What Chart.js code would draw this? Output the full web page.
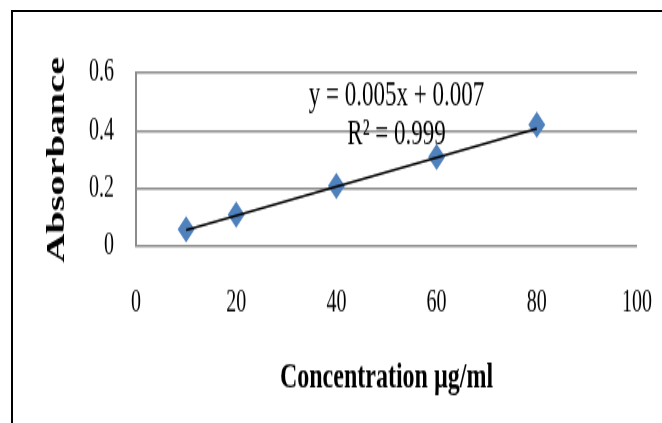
<!DOCTYPE html>
<html>
<head>
<meta charset="utf-8">
<script src="https://cdn.jsdelivr.net/npm/chart.js@4"></script>
<style>
  html, body { margin: 0; padding: 0; background: #fff; overflow: hidden; }
  body { width: 662px; height: 423px; position: relative; }
  #frame { position: absolute; left: 11px; top: 10px; width: 700px; height: 500px; border: 2px solid #000; box-sizing: border-box; }
  /* the picture is vertically stretched, so draw compressed and scale up */
  #wrap { position: absolute; left: 0; top: 0; width: 662px; height: 273px; transform: scaleY(1.5495); transform-origin: 0 0; }
</style>
</head>
<body>
<div id="frame"></div>
<div id="wrap"><canvas id="chart"></canvas></div>
<script>
// measured points
const concentration = [10, 20, 40, 60, 80]
const absorbance = [0.06, 0.11, 0.21, 0.31, 0.42]

// trendline y = 0.005x + 0.007 over the data range
const trendX = [10, 80]
const trendY = [0.057, 0.407]

const equationLines = ["y = 0.005x + 0.007", "R\u00b2 = 0.999"]
const equationPos = [{ x: 52, y: 0.518 }, { x: 52, y: 0.387 }]

const xTicks = [0, 20, 40, 60, 80, 100]
const yTicks = [0, 0.2, 0.4, 0.6]

const serif = "'Liberation Serif', 'Times New Roman', serif"

const equationPlugin = {
  id: 'equation',
  afterDatasetsDraw(chart) {
    const ctx = chart.ctx
    const xs = chart.scales.x, ys = chart.scales.y
    ctx.save()
    ctx.font = "23px " + serif
    ctx.fillStyle = "#000"
    ctx.textAlign = "center"
    ctx.textBaseline = "middle"
    for (let i = 0; i < equationLines.length; i++) {
      ctx.fillText(equationLines[i], xs.getPixelForValue(equationPos[i].x), ys.getPixelForValue(equationPos[i].y))
    }
    ctx.restore()
  }
}

const points = concentration.map((c, i) => ({ x: c, y: absorbance[i] }))
const trend = trendX.map((c, i) => ({ x: c, y: trendY[i] }))

new Chart(document.getElementById('chart'), {
  type: 'scatter',
  data: {
    datasets: [
      {
        label: 'Linear',
        data: trend,
        showLine: true,
        borderColor: '#000',
        borderWidth: 1.6,
        pointRadius: 0,
        order: 0
      },
      {
        label: 'Absorbance',
        data: points,
        pointStyle: 'rectRot',
        pointRadius: 8.5,
        pointHoverRadius: 8.5,
        backgroundColor: '#4f81bd',
        borderColor: '#4f81bd',
        borderWidth: 0,
        order: 1
      }
    ]
  },
  options: {
    responsive: true,
    maintainAspectRatio: false,
    animation: false,
    events: [],
    layout: { padding: { left: 0, top: 46.9, right: 25, bottom: 0 } },
    plugins: { legend: { display: false }, tooltip: { enabled: false } },
    scales: {
      x: {
        type: 'linear',
        min: 0,
        max: 100,
        afterBuildTicks: (scale) => { scale.ticks = xTicks.map(v => ({ value: v })) },
        afterFit: (scale) => {
          scale.height = 113.8
          scale.paddingLeft = 0
          scale.paddingRight = 0
        },
        grid: { display: false, drawTicks: false },
        border: { display: false },
        ticks: { padding: 25, color: '#000', font: { family: serif, size: 20 } },
        title: {
          display: true,
          text: 'Concentration \u00b5g/ml',
          color: '#000',
          font: { family: serif, size: 24, weight: 'bold' },
          padding: { top: 0, bottom: 14.6 }
        }
      },
      y: {
        type: 'linear',
        min: 0,
        max: 0.6,
        afterBuildTicks: (scale) => { scale.ticks = yTicks.map(v => ({ value: v })) },
        afterFit: (scale) => { scale.width = 136 },
        grid: { color: '#8c8c8c', lineWidth: 1.6, drawTicks: false },
        border: { display: true, color: '#8c8c8c', width: 2 },
        ticks: {
          padding: 22,
          color: '#000',
          font: { family: serif, size: 20 },
          callback: (v) => String(Math.round(v * 10) / 10)
        },
        title: {
          display: true,
          text: 'Absorbance',
          color: '#000',
          font: { family: serif, size: 26, weight: 'bold' },
          padding: { top: 42, bottom: 0 }
        }
      }
    }
  },
  plugins: [equationPlugin]
})
</script>
</body>
</html>
